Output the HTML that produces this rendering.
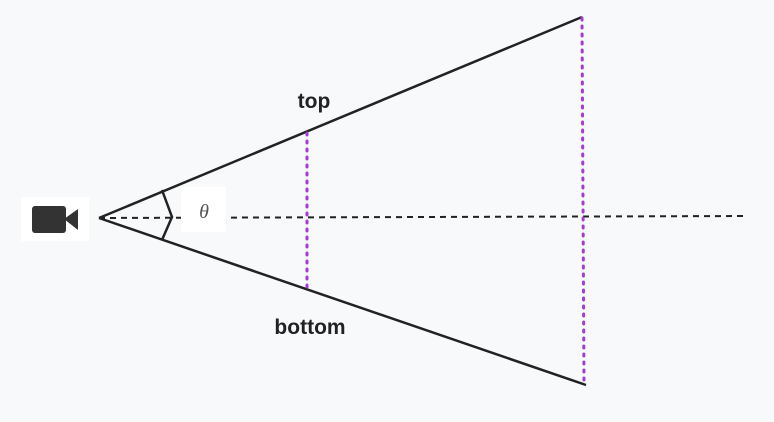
<!DOCTYPE html>
<html><head><style>
html,body{margin:0;padding:0;background:#f8f9fb;width:774px;height:422px;overflow:hidden}
</style></head><body>
<svg width="774" height="422" xmlns="http://www.w3.org/2000/svg">
<rect width="774" height="422" fill="#f8f9fb"/>
<line x1="99" y1="218" x2="748" y2="216" stroke="#222" stroke-width="2" stroke-dasharray="6,5"/>
<line x1="99" y1="218" x2="582" y2="17" stroke="#222" stroke-width="2.5"/>
<line x1="99" y1="218" x2="586" y2="385" stroke="#222" stroke-width="2.5"/>
<line x1="307" y1="133" x2="307" y2="290" stroke="#a43ccf" stroke-width="3" stroke-dasharray="2,6" stroke-linecap="round"/>
<line x1="582" y1="18" x2="584" y2="384" stroke="#a43ccf" stroke-width="3" stroke-dasharray="2,6" stroke-linecap="round"/>
<polyline points="162,190 172,217 162,240" fill="none" stroke="#222" stroke-width="2.5"/>
<rect x="181" y="187" width="45" height="45" fill="#fff"/>
<text x="204" y="218" font-family="Liberation Serif, serif" font-style="italic" font-size="20" fill="#555" text-anchor="middle">θ</text>
<rect x="21" y="197" width="68" height="44" fill="#fff"/>
<rect x="32" y="206" width="34" height="27" rx="3" fill="#333"/>
<polygon points="64,219 78,209 78,230" fill="#333"/>
<text x="314" y="108" font-family="Liberation Sans, sans-serif" font-size="21" font-weight="bold" fill="#222" text-anchor="middle">top</text>
<text x="310" y="334" font-family="Liberation Sans, sans-serif" font-size="21" font-weight="bold" fill="#222" text-anchor="middle">bottom</text>
</svg>
</body></html>
